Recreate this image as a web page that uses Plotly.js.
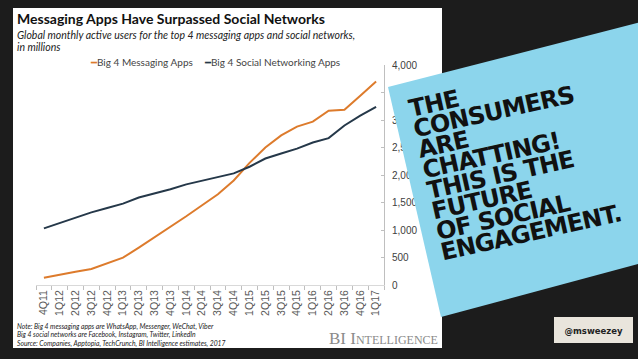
<!DOCTYPE html>
<html><head><meta charset="utf-8">
<script src="https://cdn.plot.ly/plotly-3.0.1.min.js"></script>
<style>
html,body{margin:0;padding:0;background:#1c1c1c;overflow:hidden}
#wrap{position:relative;width:638px;height:359px}
#chart{position:absolute;left:0;top:0;width:638px;height:359px}
#overlay{position:absolute;left:0;top:0;pointer-events:none}
</style></head>
<body>
<div id="wrap"><div id="chart"></div>
<svg id="overlay" width="638" height="359" xmlns="http://www.w3.org/2000/svg"></svg></div>
<script>
// ---- data ----
const quarters = ["4Q11","1Q12","2Q12","3Q12","4Q12","1Q13","2Q13","3Q13","4Q13","1Q14","2Q14","3Q14","4Q14","1Q15","2Q15","3Q15","4Q15","1Q16","2Q16","3Q16","4Q16","1Q17"];
const messaging = [133,190,240,290,400,497,680,870,1050,1250,1450,1650,1900,2220,2500,2720,2880,2970,3170,3185,3440,3700];
const social = [1030,1130,1230,1320,1400,1480,1590,1660,1740,1830,1900,1960,2030,2150,2300,2390,2480,2590,2670,2900,3080,3240];
const seriesNames = ["Big 4 Messaging Apps","Big 4 Social Networking Apps"];
const yTicks = [0,500,1000,1500,2000,2500,3000,3500,4000];
const titleText = "Messaging Apps Have Surpassed Social Networks";
const subtitleLines = ["Global monthly active users for the top 4 messaging apps and social networks,","in millions"];
const noteLines = ["Note: Big 4 messaging apps are WhatsApp, Messenger, WeChat, Viber","Big 4 social networks are Facebook, Instagram, Twitter, LinkedIn","Source: Companies, Apptopia, TechCrunch, BI Intelligence estimates, 2017"];
const brandText = "BI Intelligence";
const stickyLines = ["THE","CONSUMERS","ARE","CHATTING!","THIS IS THE","FUTURE","OF SOCIAL","ENGAGEMENT."];
const handle = "@msweezey";

// ---- layout helpers (pixel -> paper) ----
const L=36, R=384, T=65, B=285;
const px = X => (X-L)/(R-L);
const py = Y => (B-Y)/(B-T);
const orange = "#dd7b2c", navy = "#253849";

const traces = [
  {x: quarters, y: messaging, name: seriesNames[0], type:"scatter", mode:"lines", line:{color:orange, width:2}, showlegend:false},
  {x: quarters, y: social, name: seriesNames[1], type:"scatter", mode:"lines", line:{color:navy, width:2}, showlegend:false}
];

const ann = [];
ann.push({xref:"paper",yref:"paper",x:px(15),y:py(18),xanchor:"left",yanchor:"middle",showarrow:false,
  text:"<b>"+titleText+"</b>",font:{family:"Lato",size:14,color:"#111"}});
subtitleLines.forEach((s,i)=>ann.push({xref:"paper",yref:"paper",x:px(15),y:py(35+i*12),xanchor:"left",yanchor:"middle",showarrow:false,
  text:"<i>"+s+"</i>",font:{family:"Lato",size:10.5,color:"#222"}}));
// legend
ann.push({xref:"paper",yref:"paper",x:px(88),y:py(62),xanchor:"left",yanchor:"middle",showarrow:false,
  text:"<span style='color:"+orange+"'>━</span>"+seriesNames[0],font:{family:"Lato",size:10,color:"#444"}});
ann.push({xref:"paper",yref:"paper",x:px(202),y:py(62),xanchor:"left",yanchor:"middle",showarrow:false,
  text:"<span style='color:"+navy+"'>━</span>"+seriesNames[1],font:{family:"Lato",size:10,color:"#444"}});
noteLines.forEach((s,i)=>ann.push({xref:"paper",yref:"paper",x:px(15),y:py(326+i*8.5),xanchor:"left",yanchor:"middle",showarrow:false,
  text:"<i>"+s+"</i>",font:{family:"Lato",size:6.8,color:"#222"}}));
ann.push({xref:"paper",yref:"paper",x:px(440),y:py(338),xanchor:"right",yanchor:"middle",showarrow:false,
  text:brandText,font:{family:"Liberation Serif",size:17,color:"#8a8a8a",variant:"small-caps"}});

const layout = {
  width:638,height:359,
  margin:{l:L,r:638-R,t:T,b:359-B,pad:0},
  paper_bgcolor:"#1c1c1c",plot_bgcolor:"rgba(0,0,0,0)",
  showlegend:false,
  xaxis:{type:"category",range:[-0.5,quarters.length-0.5],tickangle:-90,tickson:"boundaries",ticks:"outside",ticklen:4,
    tickcolor:"#bfbfbf",showline:true,linecolor:"#d9d9d9",linewidth:1,showgrid:false,zeroline:false,
    tickfont:{family:"Liberation Sans",size:10.5,color:"#595959"},fixedrange:true},
  yaxis:{side:"right",range:[0,4000],tickvals:yTicks,tickformat:",d",showgrid:false,showline:true,linecolor:"#bfbfbf",
    ticks:"inside",ticklen:3,tickcolor:"#bfbfbf",zeroline:false,ticklabelstandoff:5,
    tickfont:{family:"Liberation Sans",size:10,color:"#404040"},fixedrange:true},
  shapes:[{type:"rect",xref:"paper",yref:"paper",x0:px(13),x1:px(442),y0:py(348),y1:py(8),fillcolor:"#ffffff",line:{width:0},layer:"below"}],
  annotations:ann
};
Plotly.newPlot("chart",traces,layout,{staticPlot:true,displayModeBar:false});

// ---- sticky note overlay ----
const NS="http://www.w3.org/2000/svg";
const svg=document.getElementById("overlay");
const poly=document.createElementNS(NS,"polygon");
poly.setAttribute("points","388,87 645,21 645,262 441,317");
poly.setAttribute("fill","#8cd5ec");
svg.appendChild(poly);
const g=document.createElementNS(NS,"g");
g.setAttribute("transform","translate(411,117) rotate(-12.5)");
stickyLines.forEach((s,i)=>{
  const t=document.createElementNS(NS,"text");
  t.setAttribute("x",0);t.setAttribute("y",i*21);
  t.setAttribute("font-family","DejaVu Sans");t.setAttribute("font-weight","bold");
  t.setAttribute("font-size","24");t.setAttribute("letter-spacing","-0.8");t.setAttribute("fill","#111");
  t.textContent=s;g.appendChild(t);
});
svg.appendChild(g);
const rect=document.createElementNS(NS,"rect");
rect.setAttribute("x",554);rect.setAttribute("y",317);rect.setAttribute("width",79);rect.setAttribute("height",26);
rect.setAttribute("fill","#e9e5dc");svg.appendChild(rect);
const ht=document.createElementNS(NS,"text");
ht.setAttribute("x",593.5);ht.setAttribute("y",333.5);ht.setAttribute("text-anchor","middle");
ht.setAttribute("font-family","DejaVu Sans");ht.setAttribute("font-weight","bold");ht.setAttribute("font-size","8.5");
ht.setAttribute("fill","#222");ht.textContent=handle;svg.appendChild(ht);
</script>
</body></html>
